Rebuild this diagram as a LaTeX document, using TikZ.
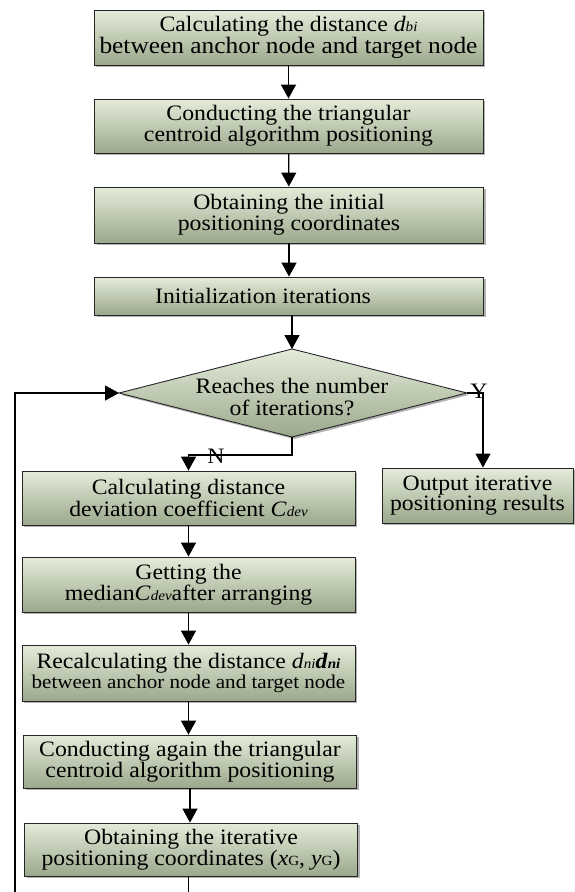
\documentclass[tikz,border=0pt]{standalone}
\usepackage{fontspec}
\setmainfont{Liberation Serif}[FakeStretch=1.08]
\usetikzlibrary{shapes.geometric,arrows.meta,shadows}
\definecolor{gtop}{HTML}{E4ECD9}
\definecolor{gmid}{HTML}{D4DFC7}
\definecolor{gbot}{HTML}{9BA88C}
\newcommand{\sbs}[1]{{\fontsize{14}{14}\selectfont\textit{#1}}}
\newcommand{\sbu}[1]{{\fontsize{14}{14}\selectfont #1}}
\begin{document}
\begin{tikzpicture}[x=1pt,y=-1pt,
  fillstyle/.style={draw=black!85, line width=0.9pt, top color=gtop, middle color=gmid, bottom color=gbot,
    drop shadow={shadow xshift=2pt, shadow yshift=-2pt, fill=black!50, opacity=0.6}},
  box/.style={fillstyle, rectangle, inner sep=0pt, align=center, font=\fontsize{22}{20}\selectfont},
  topbox/.style={box, minimum width=389pt},
  lowbox/.style={box, minimum width=333pt},
  lbl/.style={inner sep=0pt, font=\fontsize{22}{22}\selectfont},
  arr/.style={line width=1.3pt, -{Triangle[width=15pt,length=14pt]}},
  ln/.style={line width=1.3pt}]
\useasboundingbox[fill=white] (0,0) rectangle (574,892);

\node[topbox, minimum height=55pt] (b1) at (288.5,37.5) {Calculating the distance \textit{d}\sbs{bi}\\{\fontsize{23.5}{20}\selectfont between anchor node and target node}};
\node[topbox, minimum height=54pt] (b2) at (288.5,126) {Conducting the triangular\\centroid algorithm positioning};
\node[topbox, minimum height=56pt] (b3) at (289,215) {Obtaining the initial\\positioning coordinates};
\node[topbox, minimum height=38pt] (b4) at (289,296) {\hspace*{-52pt}Initialization iterations};

\coordinate (dT) at (292,349);
\coordinate (dR) at (467,393);
\coordinate (dB) at (292,437);
\coordinate (dL) at (119,393);
\path[fillstyle] (dT) -- (dR) -- (dB) -- (dL) -- cycle;
\node[lbl, align=center] (d) at (292,397) {Reaches the number\\of iterations?};

\node[lowbox, minimum height=54pt] (b5) at (188.5,498) {Calculating distance\\deviation coefficient \textit{C}\sbs{dev}};
\node[box, minimum width=191pt, minimum height=55pt] (out) at (477.5,495.5) {Output iterative\\positioning results};
\node[lowbox, minimum height=55pt] (b6) at (188.5,584.5) {Getting the\\median\textit{C}\sbs{dev}after arranging};
\node[lowbox, minimum height=56pt] (b7) at (188.5,673) {Recalculating the distance \textit{d}\sbs{ni}\textbf{\textit{d}\sbs{ni}}\\{\fontsize{19.5}{19}\selectfont between anchor node and target node}};
\node[lowbox, minimum height=53pt] (b8) at (190,761.5) {Conducting again the triangular\\centroid algorithm positioning};
\node[lowbox, minimum height=53pt] (b9) at (191,849.5) {Obtaining the iterative\\positioning coordinates (\textit{x}\sbu{G}, \textit{y}\sbu{G})};

\draw[arr] (b1) -- (b2);
\draw[arr] (b2) -- (b3);
\draw[arr] (b3) -- (b4);
\draw[arr] (b4.south -| dT) -- (dT);

\coordinate (yc) at (483,393);
\draw[arr] (dR) -- (yc) -- (yc |- out.north);
\node[lbl] (ylab) at (479,391) {Y};

\coordinate (nc) at (292,455);
\draw[arr] (dB) -- (nc) -| (b5.north);
\node[lbl] (nlab) at (216,456) {N};

\draw[arr] (b5.south -| b6.north) -- (b6.north);
\draw[arr] (b6) -- (b7);
\draw[arr] (b7.south) -- (b7.south |- b8.north);
\draw[arr] (b8.south) -- (b8.south |- b9.north);

\coordinate (mb) at (188.5,892);
\coordinate (lb) at (15,892);
\draw[ln] (b9.south -| mb) -- (mb);
\draw[arr] (lb) |- (dL);
\end{tikzpicture}
\end{document}
